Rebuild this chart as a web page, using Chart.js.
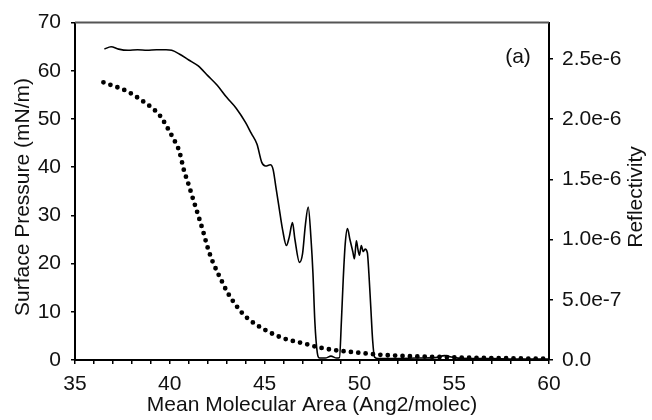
<!DOCTYPE html>
<html>
<head>
<meta charset="utf-8">
<script src="https://cdn.jsdelivr.net/npm/chart.js@4"></script>
<style>
  body { margin: 0; background: #fff; }
  #wrap { width: 652px; height: 420px; }
</style>
</head>
<body>
<div id="wrap"><canvas id="chart"></canvas></div>
<script>
// Surface pressure isotherm (dotted, left axis)
const areaPressure = [36.5, 37.0, 37.5, 38.0, 38.5, 39.0, 39.5, 40.0, 40.25, 40.5, 40.75, 41.0,
  41.25, 41.5, 41.75, 42.0, 42.25, 42.5, 42.75, 43.0, 43.5, 44.0, 45.0, 46.0, 47.0, 48.0,
  49.0, 50.0, 51.0, 52.0, 53.0, 54.0, 55.0, 56.0, 57.0, 58.0, 59.0, 60.0];
const pressure = [57.6, 56.9, 56.2, 55.2, 53.9, 52.5, 50.6, 47.3, 45.5, 43.3, 39.3, 36.3,
  33.1, 30.0, 26.8, 23.3, 20.5, 18.3, 16.3, 14.3, 11.3, 9.0, 6.3, 4.5, 3.5, 2.5,
  1.9, 1.5, 1.1, 0.9, 0.75, 0.65, 0.55, 0.45, 0.4, 0.35, 0.3, 0.25];

// Reflectivity (solid, right axis)
const areaRefl = [36.55, 36.9, 37.3, 37.8, 38.3, 38.8, 39.3, 39.8, 40.1, 40.5, 41.0, 41.5,
  42.0, 42.5, 43.0, 43.5, 44.0, 44.3, 44.6, 44.85, 45.05, 45.3, 45.45, 45.6, 45.75, 45.95,
  46.15, 46.3, 46.47, 46.6, 46.84, 47.0, 47.15, 47.3, 47.45, 47.55, 47.65, 47.78, 47.9,
  48.2, 48.5, 48.8, 48.95, 49.05, 49.15, 49.25, 49.37, 49.5, 49.65, 49.74, 49.84, 49.92,
  50.0, 50.1, 50.2, 50.3, 50.42, 50.5, 50.6, 50.7, 50.8, 51.0, 52.0, 53.0, 54.0, 54.5,
  55.0, 56.0, 57.0, 58.0, 59.0, 60.0];
const reflectivity = [2.58e-6, 2.60e-6, 2.58e-6, 2.57e-6, 2.575e-6, 2.57e-6, 2.575e-6, 2.575e-6,
  2.57e-6, 2.54e-6, 2.49e-6, 2.44e-6, 2.36e-6, 2.28e-6, 2.18e-6, 2.09e-6, 1.97e-6, 1.88e-6,
  1.79e-6, 1.64e-6, 1.61e-6, 1.62e-6, 1.58e-6, 1.43e-6, 1.28e-6, 1.08e-6, 0.95e-6, 1.02e-6,
  1.14e-6, 1.00e-6, 0.81e-6, 0.88e-6, 1.12e-6, 1.27e-6, 1.00e-6, 0.72e-6, 0.32e-6, 0.06e-6,
  0.016e-6, 0.016e-6, 0.032e-6, 0.016e-6, 0.02e-6, 0.32e-6, 0.68e-6, 0.96e-6, 1.09e-6,
  1.00e-6, 0.90e-6, 0.84e-6, 0.99e-6, 0.92e-6, 0.87e-6, 0.95e-6, 0.90e-6, 0.92e-6, 0.89e-6,
  0.72e-6, 0.44e-6, 0.16e-6, 0.024e-6, 0.012e-6, 0.012e-6, 0.016e-6, 0.02e-6, 0.036e-6,
  0.02e-6, 0.012e-6, 0.012e-6, 0.008e-6, 0.008e-6, 0.008e-6];

// tick labels
const areaTickLabels = [35, 40, 45, 50, 55, 60];
const pressureTickLabels = ['0', '10', '20', '30', '40', '50', '60', '70'];
const reflTickLabels = ['0.0', '5.0e-7', '1.0e-6', '1.5e-6', '2.0e-6', '2.5e-6'];

const FONT = '"Liberation Sans", Arial, sans-serif';
const ink = '#111';

function toPoints(xs, ys) {
  return xs.map((x, i) => ({ x: x, y: ys[i] }));
}

// titles, panel letter and top frame line
const extras = {
  id: 'extras',
  afterDraw(chart) {
    const ctx = chart.ctx;
    const a = chart.chartArea;
    ctx.save();
    ctx.strokeStyle = '#555';
    ctx.lineWidth = 2;
    ctx.beginPath();
    ctx.moveTo(a.left, a.top);
    ctx.lineTo(a.right, a.top);
    ctx.stroke();

    ctx.fillStyle = ink;
    ctx.font = '21px ' + FONT;
    ctx.textAlign = 'center';
    ctx.textBaseline = 'middle';
    ctx.fillText('Mean Molecular Area (Ang2/molec)', (a.left + a.right) / 2, 405);
    ctx.fillText('(a)', 518, 57);

    ctx.save();
    ctx.translate(23, 197);
    ctx.rotate(-Math.PI / 2);
    ctx.fillText('Surface Pressure (mN/m)', 0, 0);
    ctx.restore();

    ctx.save();
    ctx.translate(636, 197);
    ctx.rotate(-Math.PI / 2);
    ctx.fillText('Reflectivity', 0, 0);
    ctx.restore();
    ctx.restore();
  }
};

new Chart(document.getElementById('chart'), {
  type: 'line',
  data: {
    datasets: [
      {
        label: 'Reflectivity',
        data: toPoints(areaRefl, reflectivity),
        yAxisID: 'y2',
        borderColor: '#000',
        borderWidth: 1.6,
        pointRadius: 0,
        cubicInterpolationMode: 'monotone',
        fill: false
      },
      {
        label: 'Surface Pressure',
        data: toPoints(areaPressure, pressure),
        yAxisID: 'y',
        borderColor: '#000',
        borderWidth: 4.8,
        borderDash: [0, 7.4],
        borderCapStyle: 'round',
        pointRadius: 0,
        cubicInterpolationMode: 'monotone',
        fill: false
      }
    ]
  },
  options: {
    responsive: true,
    maintainAspectRatio: false,
    animation: false,
    layout: { padding: { top: 21, left: 0, right: 0, bottom: 0 } },
    plugins: { legend: { display: false }, tooltip: { enabled: false } },
    scales: {
      x: {
        type: 'linear',
        min: 35,
        max: 60,
        afterFit: s => { s.height = 60; },
        ticks: {
          stepSize: 1,
          autoSkip: false,
          maxRotation: 0,
          padding: 8,
          color: ink,
          font: { size: 21, family: FONT },
          callback: v => areaTickLabels.includes(v) ? String(v) : ''
        },
        grid: { drawOnChartArea: false, tickLength: 4, color: '#000', lineWidth: 1.5 },
        border: { display: true, color: '#000', width: 2 }
      },
      y: {
        type: 'linear',
        position: 'left',
        min: 0,
        max: 70,
        afterFit: s => { s.width = 75; },
        ticks: {
          stepSize: 10,
          padding: 10,
          color: ink,
          font: { size: 21, family: FONT },
          callback: (v, i) => pressureTickLabels[i]
        },
        grid: { drawOnChartArea: false, tickLength: 4, color: '#000', lineWidth: 1.5 },
        border: { display: true, color: '#000', width: 2 }
      },
      y2: {
        type: 'linear',
        position: 'right',
        min: 0,
        max: 2.8e-6,
        afterFit: s => { s.width = 103; },
        ticks: {
          stepSize: 5e-7,
          includeBounds: false,
          padding: 9,
          color: ink,
          font: { size: 21, family: FONT },
          callback: (v, i) => reflTickLabels[i]
        },
        grid: { drawOnChartArea: false, tickLength: 4, color: '#000', lineWidth: 1.5 },
        border: { display: true, color: '#000', width: 2 }
      }
    }
  },
  plugins: [extras]
});
</script>
</body>
</html>
